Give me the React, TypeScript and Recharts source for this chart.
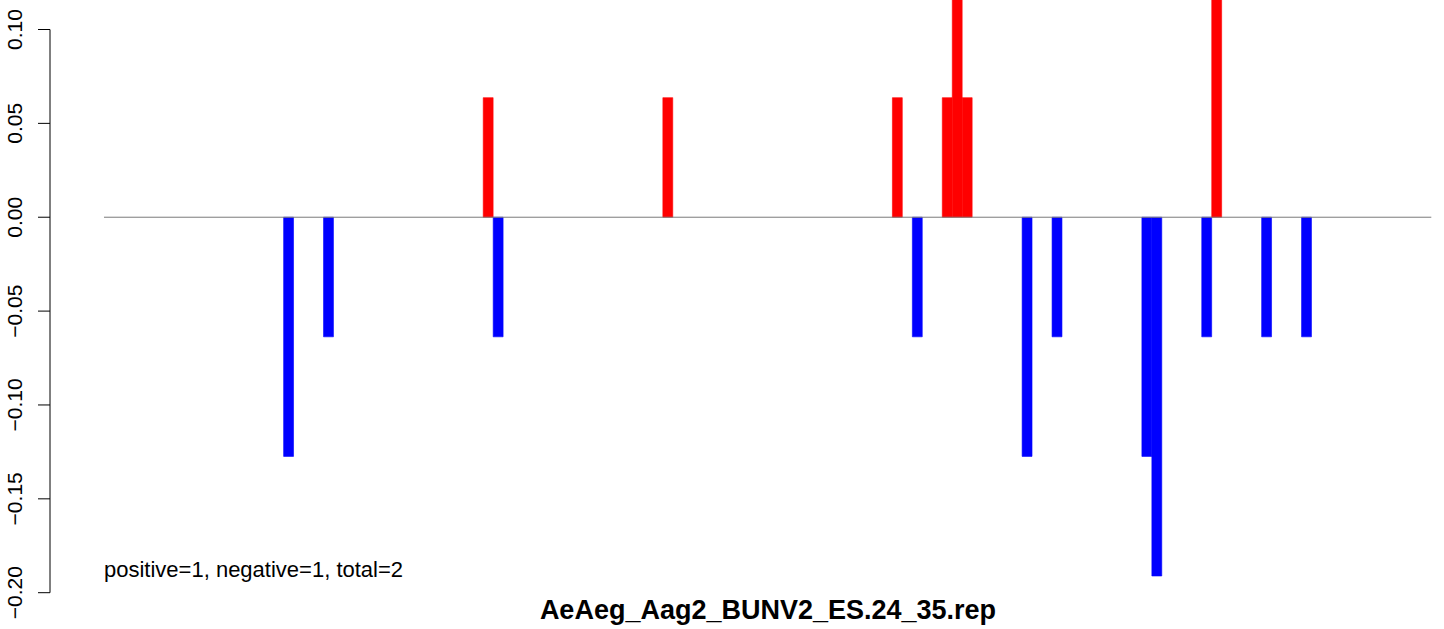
import React from 'react'
import { BarChart, Bar, XAxis, YAxis, ReferenceLine, Cell } from 'recharts'

// site index along the read (one bar slot each) and its score
const POSITIONS = [18, 22, 38, 39, 56, 79, 81, 84, 85, 86, 92, 95, 104, 105, 110, 111, 116, 120]
const SCORES = [
  -0.1274, -0.0637, 0.0637, -0.0637, 0.0637, 0.0637, -0.0637, 0.0637, 0.1274,
  0.0637, -0.1274, -0.0637, -0.1274, -0.1911, -0.0637, 0.1274, -0.0637, -0.0637,
]
const SITE_COUNT = 133
const Y_TICKS = [-0.2, -0.15, -0.1, -0.05, 0, 0.05, 0.1]
const TITLE = 'AeAeg_Aag2_BUNV2_ES.24_35.rep'
const SUMMARY = 'positive=1, negative=1, total=2'

const FONT = '"Liberation Sans", Arial, Helvetica, sans-serif'

const data = POSITIONS.map((p, i) => ({ pos: p + 0.5, score: SCORES[i] }))

const fmt = (v: number) => {
  const s = Math.abs(v).toFixed(2)
  return v < 0 ? `\u2212${s}` : s
}

function YTick(props: any) {
  const { y, payload } = props
  const lx = 22
  return (
    <text
      x={lx}
      y={y}
      transform={`rotate(-90, ${lx}, ${y})`}
      textAnchor="middle"
      fontSize={21}
      fontFamily={FONT}
      fill="#000"
    >
      {fmt(payload.value)}
    </text>
  )
}

export default function App() {
  return (
    <div style={{ position: 'relative', width: 1444, height: 629, background: '#fff', fontFamily: FONT }}>
      <style>{`
        body { margin: 0; }
        .recharts-bar-rectangles, .recharts-bar [clip-path] { clip-path: none !important; }
      `}</style>
      <BarChart
        width={1444}
        height={629}
        data={data}
        margin={{ top: 29.5, right: 12.7, bottom: 36.3, left: 0 }}
      >
        <XAxis type="number" dataKey="pos" domain={[-5.41, SITE_COUNT]} allowDataOverflow hide />
        <YAxis
          type="number"
          domain={[-0.2, 0.1]}
          allowDataOverflow
          ticks={Y_TICKS}
          interval={0}
          width={50}
          tickSize={12}
          axisLine={{ stroke: '#000', strokeWidth: 1 }}
          tickLine={{ stroke: '#000', strokeWidth: 1 }}
          tick={<YTick />}
        />
        <ReferenceLine
          segment={[{ x: 0, y: 0 }, { x: SITE_COUNT, y: 0 }]}
          stroke="#7a7a7a"
          strokeWidth={1}
        />
        <Bar dataKey="score" barSize={9.9} isAnimationActive={false}>
          {data.map((d, i) => {
            const c = d.score > 0 ? '#ff0000' : '#0000ff'
            return <Cell key={i} fill={c} stroke={c} strokeWidth={0.6} />
          })}
        </Bar>
      </BarChart>
      <div
        style={{
          position: 'absolute',
          left: 104,
          top: 558,
          fontSize: 22,
          lineHeight: '24px',
          color: '#000',
          whiteSpace: 'nowrap',
        }}
      >
        {SUMMARY}
      </div>
      <div
        style={{
          position: 'absolute',
          left: 104,
          width: 1328,
          top: 595,
          textAlign: 'center',
          fontSize: 27,
          fontWeight: 'bold',
          lineHeight: '30px',
          color: '#000',
          whiteSpace: 'nowrap',
        }}
      >
        {TITLE}
      </div>
    </div>
  )
}
